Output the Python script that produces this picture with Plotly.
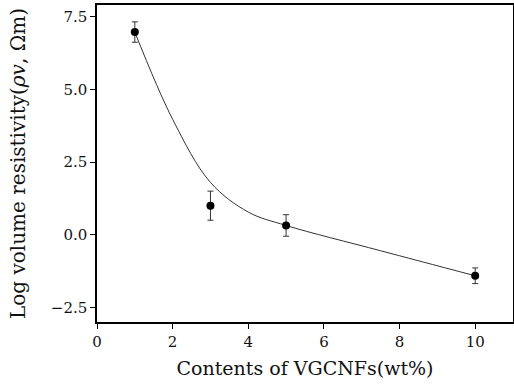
import plotly.graph_objects as go

# Data
content = [1, 3, 5, 10]
log_rho = [6.97, 1.0, 0.32, -1.41]
err = [0.35, 0.5, 0.37, 0.27]

# Fitted curve
curve_x = [1, 2, 3, 4, 5, 7.5, 10]
curve_y = [6.97, 3.97, 1.8, 0.78, 0.32, -0.55, -1.41]

x_ticks = [0, 2, 4, 6, 8, 10]
y_ticks = [-2.5, 0.0, 2.5, 5.0, 7.5]
y_tick_text = ["\u22122.5", "0.0", "2.5", "5.0", "7.5"]

FONT = "DejaVu Serif, Liberation Serif, serif"

fig = go.Figure()
fig.add_trace(go.Scatter(
    x=curve_x, y=curve_y, mode="lines",
    line=dict(color="#333333", width=1, shape="spline", smoothing=1.0),
    hoverinfo="skip", showlegend=False,
))
fig.add_trace(go.Scatter(
    x=content, y=log_rho, mode="markers",
    marker=dict(color="black", size=8),
    error_y=dict(type="data", array=err, visible=True, color="#333333",
                 thickness=1, width=3),
    showlegend=False,
))

fig.update_layout(
    width=514, height=385,
    margin=dict(l=97, r=1, t=5, b=63),
    paper_bgcolor="white", plot_bgcolor="white",
    font=dict(family=FONT, color="#111111", size=15),
)
fig.update_xaxes(
    range=[0, 11], tickvals=x_ticks, ticks="outside", ticklen=5,
    tickcolor="black", showline=True, linecolor="black", linewidth=1.5,
    mirror=True, showgrid=False, zeroline=False, automargin=False,
    tickfont=dict(size=15),
    title=dict(text="Contents of VGCNFs(wt%)", font=dict(size=19), standoff=12),
)
fig.update_yaxes(
    range=[-3.0, 7.9], tickvals=y_ticks, ticktext=y_tick_text,
    ticks="outside", ticklen=5, tickcolor="black",
    showline=True, linecolor="black", linewidth=1.5, mirror=True,
    showgrid=False, zeroline=False, automargin=False, tickfont=dict(size=15),
    title=dict(text="Log volume resistivity(<i>ρv</i>, Ωm)", font=dict(size=20), standoff=20),
)

fig.write_html("out.html", config={"displayModeBar": False},
               post_script="document.body.style.margin='0';document.body.style.overflow='hidden';")
